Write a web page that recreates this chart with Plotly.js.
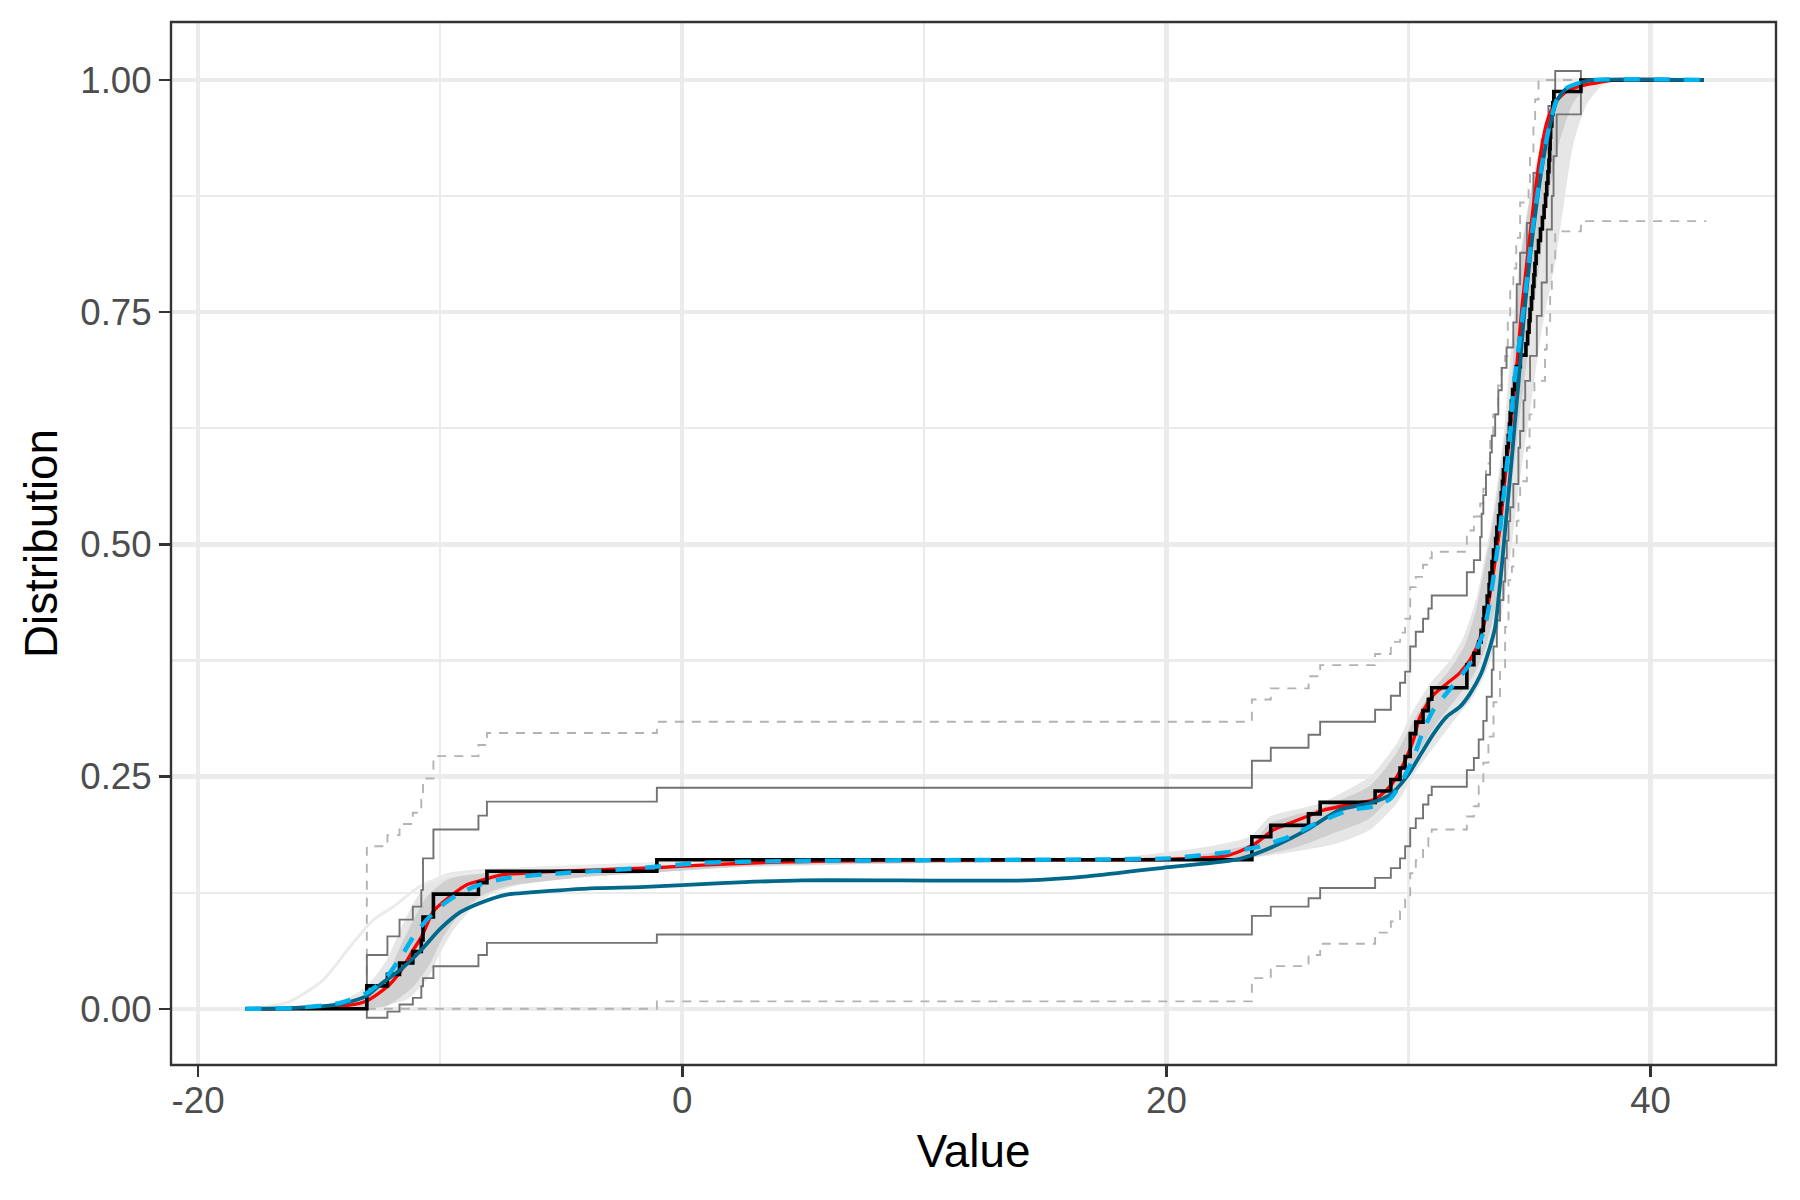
<!DOCTYPE html>
<html>
<head>
<meta charset="utf-8">
<script src="https://cdn.plot.ly/plotly-3.0.1.min.js"></script>
<style>html,body{margin:0;padding:0;background:#fff;}#chart{width:1800px;height:1200px;}</style>
</head>
<body>
<div id="chart"></div>
<script>
// ---- observations (empirical sample) ----
const observations = [-13.03,-13.03,-12.18,-11.68,-11.13,-10.78,-10.71,-10.71,-10.28,-10.28,
  -8.42,-8.07,-1.05,23.53,23.53,24.31,25.87,26.35,28.62,29.27,29.65,29.86,30.07,30.07,30.30,
  30.60,30.82,30.96,32.41,32.41,32.70,32.90,33.00,33.09,33.12,33.25,33.33,33.37,33.45,33.51,
  33.60,33.65,33.72,33.78,33.83,33.88,33.92,33.98,34.06,34.12,34.17,34.20,34.25,34.30,34.38,
  34.45,34.62,34.85,34.92,34.98,35.02,35.08,35.13,35.18,35.22,35.27,35.37,35.45,35.53,35.60,
  35.66,35.71,35.76,35.80,35.83,35.85,35.87,35.92,35.96,36.00,37.12];

// ---- confidence bands (step levels) ----
const upperSolidX = [-13.03,-13.03,-12.18,-11.68,-11.13,-10.78,-10.71,-10.28,-8.42,-8.07,-1.05,23.53,24.31,25.87,26.35,28.62,29.27,29.65,29.86,30.07,30.30,30.60,30.82,30.96,32.41,32.70,32.96,33.02,33.09,33.20,33.37,33.44,33.58,33.71,33.85,34.05,34.33,34.47,34.61,34.89,35.16,35.50,35.78,36.06,37.12,42.2];
const upperSolidY = [0,0.058,0.078,0.096,0.110,0.128,0.162,0.193,0.208,0.223,0.238,0.267,0.281,0.295,0.309,0.322,0.337,0.351,0.363,0.390,0.406,0.420,0.431,0.445,0.470,0.483,0.508,0.533,0.553,0.575,0.599,0.617,0.640,0.666,0.690,0.712,0.739,0.780,0.814,0.846,0.900,0.936,0.972,1.0096,1.0,1.0];
const lowerSolidX = [-13.03,-13.03,-12.18,-11.68,-11.13,-10.78,-10.71,-10.28,-8.42,-8.07,-1.05,23.53,24.31,25.87,26.35,28.62,29.27,29.65,29.86,30.07,30.30,30.60,30.82,30.96,32.41,32.70,32.90,33.09,33.23,33.44,33.51,33.65,33.78,33.92,33.99,34.06,34.13,34.20,34.33,34.54,34.61,34.75,34.82,35.02,35.30,35.50,35.71,35.92,35.99,36.12,37.12,42.2];
const lowerSolidY = [0,-0.0097,-0.003,0.0046,0.0118,0.0243,0.033,0.0458,0.058,0.071,0.080,0.100,0.110,0.119,0.130,0.141,0.1515,0.162,0.175,0.1945,0.205,0.220,0.230,0.239,0.257,0.270,0.290,0.310,0.336,0.365,0.390,0.418,0.440,0.460,0.485,0.504,0.525,0.540,0.565,0.604,0.622,0.655,0.676,0.703,0.746,0.782,0.839,0.875,0.918,0.963,1.0,1.0];
const upperDashX = [-13.03,-13.03,-12.18,-11.68,-11.13,-10.78,-10.71,-10.28,-8.42,-8.07,-1.05,23.53,24.31,25.87,26.35,28.62,29.27,29.65,29.86,30.07,30.30,30.60,30.82,30.96,32.41,32.70,32.96,33.09,33.20,33.37,33.50,33.70,33.85,33.99,34.10,34.20,34.33,34.45,34.61,34.96,35.02,35.16,35.23,35.37,42.2];
const upperDashY = [0,0.175,0.187,0.199,0.211,0.225,0.248,0.272,0.284,0.297,0.309,0.333,0.345,0.358,0.370,0.382,0.395,0.405,0.420,0.454,0.465,0.478,0.485,0.492,0.515,0.530,0.544,0.560,0.587,0.615,0.640,0.671,0.690,0.703,0.740,0.775,0.797,0.830,0.868,0.882,0.918,0.954,0.979,1.0,1.0];
const lowerDashX = [-13.03,-1.05,23.53,24.31,25.87,26.35,28.62,29.27,29.65,29.86,30.07,30.30,30.60,30.82,30.96,32.41,32.70,32.90,33.09,33.30,33.51,33.78,33.99,34.13,34.27,34.33,34.47,34.54,34.61,34.89,35.00,35.20,35.64,35.71,35.85,35.92,36.06,37.12,42.3];
const lowerDashY = [0,0.008,0.033,0.046,0.058,0.070,0.082,0.094,0.105,0.118,0.146,0.160,0.175,0.185,0.193,0.207,0.218,0.240,0.265,0.293,0.330,0.365,0.411,0.4615,0.476,0.500,0.525,0.547,0.568,0.604,0.640,0.676,0.710,0.739,0.768,0.804,0.837,0.848,0.848];

// ---- smooth curves ----
const redX = [-18.05,-16,-14.5,-13.5,-13.0,-12.18,-11.65,-11.1,-10.76,-10.28,-9.59,-8.9,-8.21,-7.52,-6,-3,-1,1,4,8,15,20,22.5,23.6,24.42,25.11,25.8,26.49,27.17,27.86,28.55,29.1,29.52,29.93,30.2,30.48,31.03,31.58,32.13,32.54,32.82,33.09,33.37,33.58,33.78,33.92,34.06,34.2,34.33,34.45,34.68,34.89,35.16,35.44,35.71,36.06,36.54,37.09,37.78,38.46,42.2];
const redY = [0,0.0005,0.002,0.005,0.009,0.024,0.040,0.064,0.078,0.105,0.121,0.1336,0.139,0.144,0.147,0.150,0.152,0.155,0.158,0.1595,0.1603,0.161,0.165,0.1766,0.1927,0.200,0.207,0.214,0.2178,0.2214,0.225,0.2357,0.250,0.2715,0.2894,0.3145,0.338,0.350,0.362,0.3755,0.3897,0.411,0.447,0.483,0.519,0.5546,0.590,0.6226,0.655,0.685,0.7534,0.8036,0.8645,0.918,0.954,0.9755,0.988,0.9935,0.997,1.0,1.0];
const blueX = [-18.05,-16,-14.13,-13.03,-12.2,-11.52,-11.1,-10.55,-10.0,-9.17,-8.35,-7.25,-5,-2,0.78,4,10,18,20.1,22.63,23.87,25.11,26.21,27.58,28.55,29.24,29.79,30.2,30.62,31.03,31.58,32.13,32.54,33.09,33.37,33.58,33.78,33.92,34.06,34.2,34.33,34.75,35.16,35.57,35.85,36.13,36.54,37.09,37.64,42.2];
const blueY = [0,0.001,0.0064,0.0172,0.035,0.060,0.078,0.096,0.110,0.1247,0.1336,0.1408,0.146,0.151,0.157,0.159,0.160,0.161,0.162,0.169,0.175,0.1856,0.200,0.214,0.218,0.226,0.248,0.270,0.300,0.322,0.340,0.3575,0.372,0.405,0.440,0.478,0.515,0.550,0.585,0.620,0.665,0.7534,0.8466,0.918,0.954,0.979,0.9916,0.997,1.0,1.0];
const tealX = [-18.05,-16,-14.13,-13.03,-12.48,-11.65,-10.83,-10.0,-9.17,-8.35,-7.25,-6.28,-3.53,-1.74,1.62,4.98,14.22,16.74,20.1,23.04,24.42,25.8,27.17,28.41,29.24,29.93,30.48,31.03,31.58,32.13,32.55,33.0,33.3,33.58,33.71,33.85,33.99,34.13,34.27,34.4,34.54,34.75,35.16,35.57,35.85,36.13,36.54,37.09,37.64,42.2];
const tealY = [0,0.001,0.005,0.014,0.026,0.042,0.062,0.086,0.104,0.114,0.123,0.1253,0.130,0.131,0.1354,0.1383,0.1383,0.1426,0.1526,0.1615,0.1748,0.1927,0.2142,0.2214,0.2303,0.250,0.273,0.296,0.3145,0.3253,0.3396,0.361,0.384,0.411,0.44,0.4757,0.515,0.5546,0.594,0.633,0.673,0.74,0.84,0.915,0.952,0.978,0.991,0.997,1.0,1.0];

// ---- bootstrap cloud envelopes ----
const cloudUpX = [-18.05,-15,-13.8,-13.03,-12.2,-11.65,-11.1,-10.55,-9.72,-8.62,-6,-2,3,15,18.4,21.8,23.46,24.28,26.35,28.41,29.52,30.2,30.89,31.72,32.27,32.82,33.09,33.37,33.65,33.92,34.1,34.61,35.02,35.44,35.99,36.54,37.5,42.2];
const cloudUpY = [0,0.003,0.012,0.0243,0.053,0.085,0.114,0.1354,0.146,0.1497,0.153,0.157,0.1605,0.1605,0.164,0.175,0.1855,0.207,0.2214,0.25,0.286,0.3217,0.35,0.3755,0.40,0.4435,0.479,0.515,0.5617,0.6155,0.67,0.81,0.877,0.931,0.977,0.993,1.0,1.0];
const cloudLoX = [-18.05,-13.5,-12.48,-11.38,-10.55,-10.0,-9.45,-8.62,-7.8,-6.7,-4,-1.7,2,8,15,20,23,25,27.04,28.41,29.52,30.34,31.17,32.0,32.68,33.23,33.65,33.92,34.2,34.47,34.75,35.02,35.5,36.1,36.81,37.37,38.05,39.0,42.2];
const cloudLoY = [0,0.0005,0.003,0.010,0.0315,0.060,0.085,0.110,0.1247,0.1336,0.142,0.146,0.152,0.156,0.158,0.158,0.161,0.168,0.178,0.1927,0.2214,0.257,0.286,0.3145,0.336,0.3647,0.40,0.4364,0.4865,0.544,0.5976,0.644,0.73,0.81,0.931,0.974,0.995,1.0,1.0];
const coreUpX = [-13.6,-12.9,-12.2,-11.65,-11.1,-10.55,-9.72,-8.62,-6,-2,3,15,20,23.5,24.3,26.3,28.4,29.5,30.2,30.9,31.7,32.3,32.8,33.1,33.4,33.7,33.95,34.2,34.6,35.0,35.45,36.0,36.6,37.3,42.2];
const coreUpY = [0.004,0.014,0.035,0.067,0.096,0.121,0.139,0.146,0.150,0.155,0.159,0.160,0.161,0.178,0.200,0.216,0.240,0.275,0.310,0.340,0.365,0.390,0.430,0.470,0.510,0.560,0.610,0.655,0.80,0.87,0.925,0.972,0.99,1.0,1.0];
const coreLoX = [-13.6,-12.2,-11.1,-10.41,-9.86,-9.17,-8.35,-7.25,-4,-1,3,10,20,23.5,25.5,27.0,28.4,29.5,30.3,31.1,32.0,32.7,33.2,33.65,33.95,34.25,34.55,34.9,35.3,35.7,36.2,36.8,37.5,42.2];
const coreLoY = [0.001,0.003,0.024,0.049,0.078,0.103,0.121,0.132,0.142,0.147,0.154,0.157,0.159,0.163,0.175,0.19,0.205,0.235,0.27,0.305,0.335,0.36,0.39,0.44,0.49,0.56,0.63,0.70,0.78,0.86,0.93,0.975,0.995,1.0];
const outlierX = [-18.05,-17,-16.2,-14.82,-13.72,-12.75,-11.93,-10.83,-9.72,-8,-4,0,5];
const outlierY = [0,0.003,0.008,0.0315,0.067,0.096,0.110,0.132,0.1426,0.148,0.153,0.157,0.160];

// ---- axis ticks ----
const xTicks = [-20, 0, 20, 40];
const xMinor = [-10, 10, 30];
const yTicks = [0, 0.25, 0.5, 0.75, 1.0];
const yTickText = ["0.00", "0.25", "0.50", "0.75", "1.00"];
const yMinor = [0.125, 0.375, 0.625, 0.875];

// ECDF of the observations
const n = observations.length;
const sorted = observations.slice().sort((a, b) => a - b);
const ecdfX = [redX[0]], ecdfY = [0];
for (let i = 0; i < n; i++) {
  if (i < n - 1 && sorted[i + 1] === sorted[i]) continue;
  ecdfX.push(sorted[i]); ecdfY.push((i + 1) / n);
}
ecdfX.push(redX[redX.length - 1]); ecdfY.push(1);

function poly(ux, uy, lx, ly) {
  return { x: ux.concat(lx.slice().reverse()), y: uy.concat(ly.slice().reverse()) };
}
const outer = poly(cloudUpX, cloudUpY, cloudLoX, cloudLoY);
const core = poly(coreUpX, coreUpY, coreLoX, coreLoY);

const traces = [
  { x: outer.x, y: outer.y, type: 'scatter', mode: 'lines', fill: 'toself', fillcolor: '#e6e6e6',
    line: { width: 0, shape: 'spline', smoothing: 0.6 }, hoverinfo: 'skip' },
  { x: core.x, y: core.y, type: 'scatter', mode: 'lines', fill: 'toself', fillcolor: '#cfcfcf',
    line: { width: 0, shape: 'spline', smoothing: 0.6 }, hoverinfo: 'skip' },
  { x: outlierX, y: outlierY, type: 'scatter', mode: 'lines',
    line: { color: '#ebebeb', width: 3, shape: 'spline', smoothing: 0.8 } },
  { x: upperDashX, y: upperDashY, type: 'scatter', mode: 'lines',
    line: { color: '#b3b3b3', width: 1.9, shape: 'hv', dash: '9px,8px' } },
  { x: lowerDashX, y: lowerDashY, type: 'scatter', mode: 'lines',
    line: { color: '#b3b3b3', width: 1.9, shape: 'hv', dash: '9px,8px' } },
  { x: upperSolidX, y: upperSolidY, type: 'scatter', mode: 'lines',
    line: { color: '#737373', width: 1.9, shape: 'hv' } },
  { x: lowerSolidX, y: lowerSolidY, type: 'scatter', mode: 'lines',
    line: { color: '#737373', width: 1.9, shape: 'hv' } },
  { x: redX, y: redY, type: 'scatter', mode: 'lines',
    line: { color: '#ff0000', width: 3.4, shape: 'spline', smoothing: 0.7 } },
  { x: ecdfX, y: ecdfY, type: 'scatter', mode: 'lines',
    line: { color: '#000000', width: 3.6, shape: 'hv' } },
  { x: tealX, y: tealY, type: 'scatter', mode: 'lines',
    line: { color: '#00688B', width: 3.8, shape: 'spline', smoothing: 0.7 } },
  { x: blueX, y: blueY, type: 'scatter', mode: 'lines',
    line: { color: '#00B2EE', width: 4.4, shape: 'spline', smoothing: 0.7, dash: '16px,14px' } }
];

const font = 'Liberation Sans, Arial, sans-serif';
const layout = {
  width: 1800, height: 1200,
  margin: { l: 171, r: 24, t: 22, b: 135, pad: 0 },
  paper_bgcolor: '#ffffff', plot_bgcolor: '#ffffff',
  showlegend: false,
  font: { family: font },
  xaxis: {
    range: [-21.12, 45.18], tickvals: xTicks, ticktext: xTicks.map(String),
    ticks: 'outside', ticklen: 11, tickwidth: 2.5, tickcolor: '#333333',
    ticklabelstandoff: -8,
    tickfont: { size: 36.7, color: '#4d4d4d', family: font },
    showgrid: true, gridcolor: '#ebebeb', gridwidth: 4.4, zeroline: false,
    minor: { tickvals: xMinor, showgrid: true, gridcolor: '#ebebeb', gridwidth: 2.2, ticks: '' },
    showline: false,
    title: { text: 'Value', font: { size: 45.8, color: '#000000', family: font }, standoff: 14 },
    automargin: false
  },
  yaxis: {
    range: [-0.0605, 1.0624], tickvals: yTicks, ticktext: yTickText,
    ticks: 'outside', ticklen: 11, tickwidth: 2.5, tickcolor: '#333333',
    tickfont: { size: 36.7, color: '#4d4d4d', family: font },
    showgrid: true, gridcolor: '#ebebeb', gridwidth: 4.4, zeroline: false,
    minor: { tickvals: yMinor, showgrid: true, gridcolor: '#ebebeb', gridwidth: 2.2, ticks: '' },
    showline: false,
    title: { text: 'Distribution', font: { size: 45.8, color: '#000000', family: font }, standoff: 8 },
    automargin: false
  },
  shapes: [
    { type: 'rect', xref: 'paper', yref: 'paper', x0: 0, x1: 1, y0: 0, y1: 1,
      line: { color: '#333333', width: 2.4 }, fillcolor: 'rgba(0,0,0,0)', layer: 'above' }
  ]
};

Plotly.newPlot('chart', traces, layout, { staticPlot: true, displayModeBar: false });
</script>
</body>
</html>
